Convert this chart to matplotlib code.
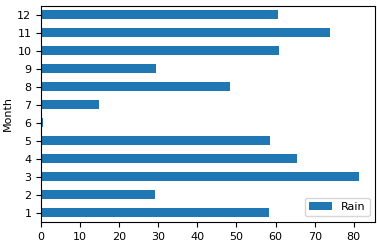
import matplotlib
matplotlib.use('Agg')
import matplotlib.pyplot as plt
import pandas as pd
from matplotlib.ticker import MultipleLocator

months = [1, 2, 3, 4, 5, 6, 7, 8, 9, 10, 11, 12]
rain = [58.2, 29.1, 81.4, 65.4, 58.5, 0.5, 14.8, 48.3, 29.3, 60.9, 74.0, 60.7]

df = pd.DataFrame({'Month': months, 'Rain': rain}).set_index('Month')

plt.rcParams['font.size'] = 8

fig = plt.figure(figsize=(3.77, 2.45), dpi=100)
ax = fig.add_axes([0.109, 0.094, 0.886, 0.882])
df.plot.barh(ax=ax, color='#1f77b4', width=0.5)
ax.xaxis.set_major_locator(MultipleLocator(10))
ax.set_ylabel('Month', labelpad=3)
ax.legend(loc='lower right')

fig.savefig('out.png', dpi=100)
